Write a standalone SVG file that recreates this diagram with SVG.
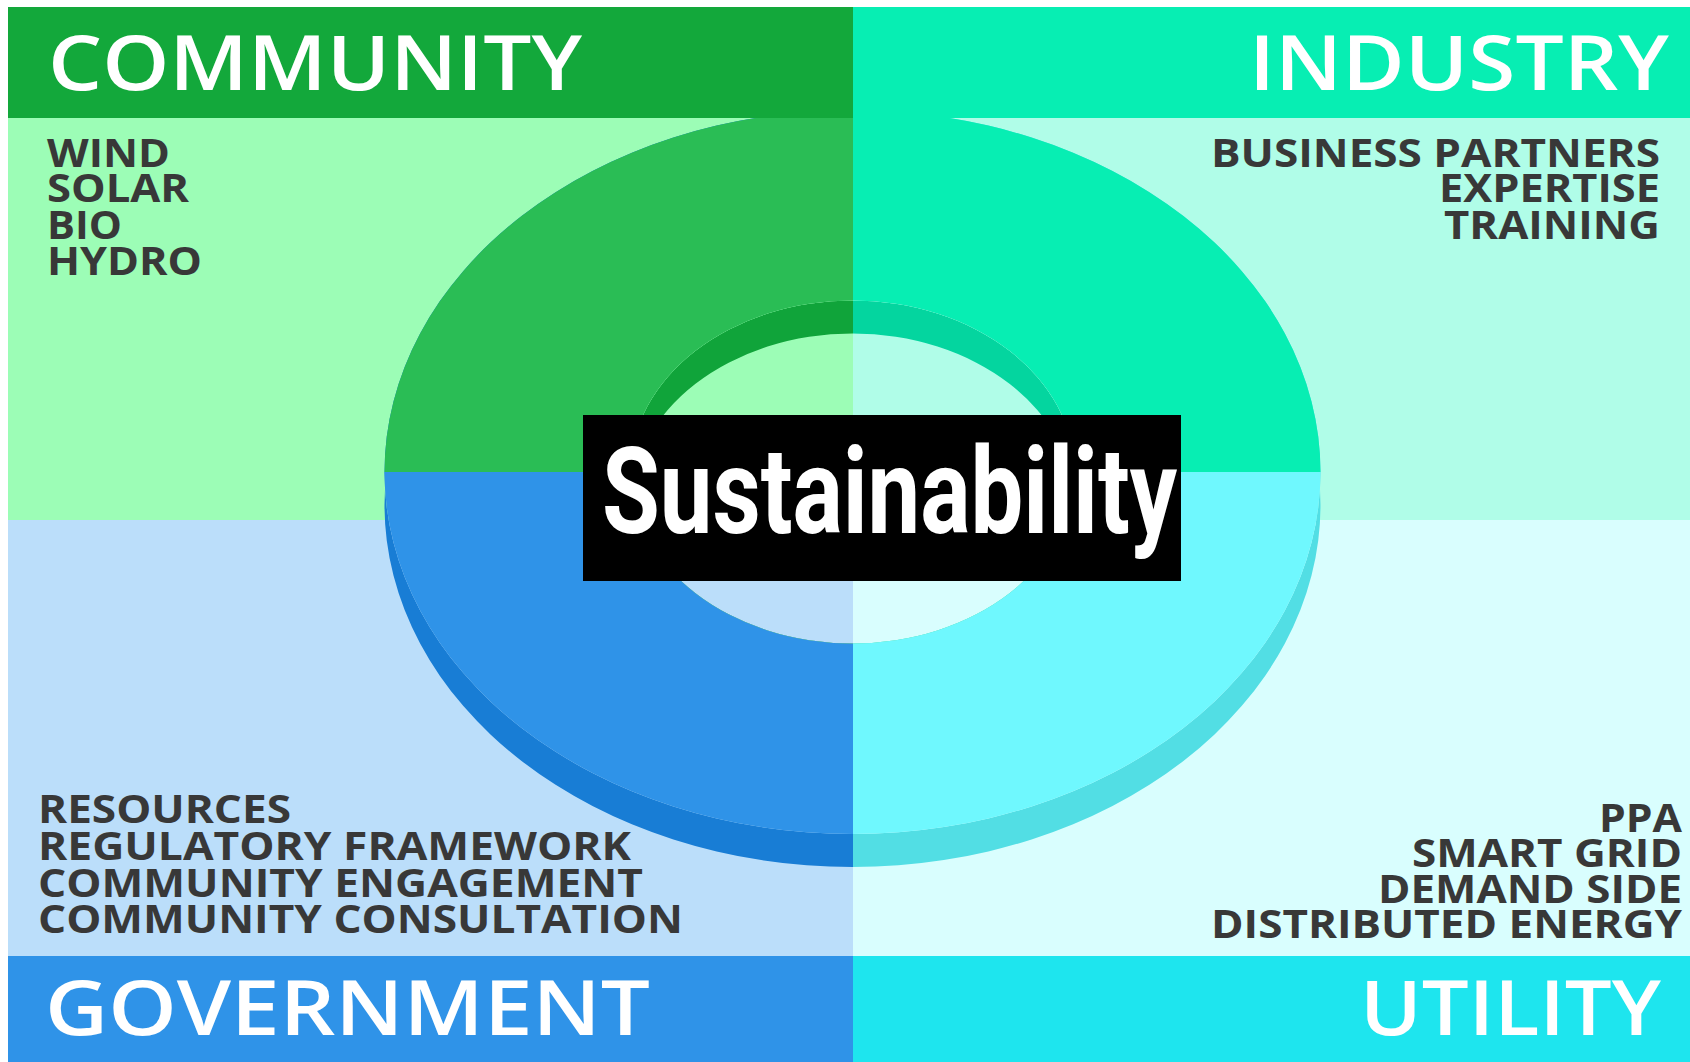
<svg xmlns="http://www.w3.org/2000/svg" width="1690" height="1062" viewBox="0 0 1690 1062">
  <style>
    .title { font-family: "Open Sans", "Liberation Sans", sans-serif; font-weight: 600; font-size: 76px; fill: #ffffff; }
    .item { font-family: "Open Sans", "Liberation Sans", sans-serif; font-weight: 700; font-size: 40px; fill: #383838; }
    .end { text-anchor: end; }
    .center-label { font-family: "Roboto", "Liberation Sans", sans-serif; font-weight: 700; font-size: 120px; fill: #ffffff; }
  </style>
  <defs>
    <pattern id="faceFill" patternUnits="userSpaceOnUse" x="0" y="0" width="1690" height="1062">
      <rect x="0" y="0" width="853" height="472" fill="#2abd55"/>
      <rect x="853" y="0" width="837" height="472" fill="#07eeb3"/>
      <rect x="0" y="472" width="853" height="590" fill="#2f93e8"/>
      <rect x="853" y="472" width="837" height="590" fill="#6ff8fe"/>
    </pattern>
    <pattern id="sideFill" patternUnits="userSpaceOnUse" x="0" y="0" width="1690" height="1062">
      <rect x="0" y="0" width="853" height="1062" fill="#187dd5"/>
      <rect x="853" y="0" width="837" height="1062" fill="#52dee4"/>
    </pattern>
    <pattern id="wallFill" patternUnits="userSpaceOnUse" x="0" y="0" width="1690" height="1062">
      <rect x="0" y="0" width="853" height="1062" fill="#10a43a"/>
      <rect x="853" y="0" width="837" height="1062" fill="#04d59f"/>
    </pattern>
    <clipPath id="holeClip">
      <ellipse cx="852.5" cy="472" rx="222" ry="171.5"/>
    </clipPath>
  </defs>

  <rect x="0" y="0" width="1690" height="1062" fill="#ffffff"/>

  <g id="backgrounds">
    <rect x="8" y="7" width="845" height="513" fill="#9cfdb6"/>
    <rect x="853" y="7" width="837" height="513" fill="#b0fde8"/>
    <rect x="8" y="520" width="845" height="542" fill="#bbdefa"/>
    <rect x="853" y="520" width="837" height="542" fill="#d9fefe"/>
  </g>

  <g id="ring">
    <path fill="url(#sideFill)" fill-rule="evenodd"
      d="M384.5 472 A468 362 0 1 0 1320.5 472 A468 362 0 1 0 384.5 472 Z M384.5 505 A468 362 0 1 0 1320.5 505 A468 362 0 1 0 384.5 505 Z"/>
    <path fill="url(#faceFill)" fill-rule="evenodd"
      d="M384.5 472 A468 362 0 1 0 1320.5 472 A468 362 0 1 0 384.5 472 Z M630.5 472 A222 171.5 0 1 0 1074.5 472 A222 171.5 0 1 0 630.5 472 Z"/>
    <path fill="url(#wallFill)" fill-rule="evenodd" clip-path="url(#holeClip)"
      d="M630.5 472 A222 171.5 0 1 0 1074.5 472 A222 171.5 0 1 0 630.5 472 Z M630.5 505 A222 171.5 0 1 0 1074.5 505 A222 171.5 0 1 0 630.5 505 Z"/>
  </g>

  <g id="community">
    <rect x="8" y="7" width="845" height="111" fill="#13a83b"/>
    <text class="title" x="48" y="90" textLength="534" lengthAdjust="spacingAndGlyphs">COMMUNITY</text>
    <text class="item" x="47" y="167" textLength="123" lengthAdjust="spacingAndGlyphs">WIND</text>
    <text class="item" x="47" y="202" textLength="142" lengthAdjust="spacingAndGlyphs">SOLAR</text>
    <text class="item" x="47" y="239" textLength="75" lengthAdjust="spacingAndGlyphs">BIO</text>
    <text class="item" x="47" y="275" textLength="155" lengthAdjust="spacingAndGlyphs">HYDRO</text>
  </g>

  <g id="industry">
    <rect x="853" y="7" width="837" height="111" fill="#07eeb3"/>
    <text class="title end" x="1669" y="90" textLength="420" lengthAdjust="spacingAndGlyphs">INDUSTRY</text>
    <text class="item end" x="1660" y="167" textLength="449" lengthAdjust="spacingAndGlyphs">BUSINESS PARTNERS</text>
    <text class="item end" x="1660" y="202" textLength="221" lengthAdjust="spacingAndGlyphs">EXPERTISE</text>
    <text class="item end" x="1660" y="239" textLength="216" lengthAdjust="spacingAndGlyphs">TRAINING</text>
  </g>

  <g id="government">
    <rect x="8" y="956" width="845" height="106" fill="#2f93e8"/>
    <text class="title" x="45" y="1035" textLength="605" lengthAdjust="spacingAndGlyphs">GOVERNMENT</text>
    <text class="item" x="38" y="823" textLength="253" lengthAdjust="spacingAndGlyphs">RESOURCES</text>
    <text class="item" x="38" y="860" textLength="593" lengthAdjust="spacingAndGlyphs">REGULATORY FRAMEWORK</text>
    <text class="item" x="38" y="897" textLength="605" lengthAdjust="spacingAndGlyphs">COMMUNITY ENGAGEMENT</text>
    <text class="item" x="38" y="933" textLength="645" lengthAdjust="spacingAndGlyphs">COMMUNITY CONSULTATION</text>
  </g>

  <g id="utility">
    <rect x="853" y="956" width="837" height="106" fill="#1ee5ee"/>
    <text class="title end" x="1661" y="1035" textLength="301" lengthAdjust="spacingAndGlyphs">UTILITY</text>
    <text class="item end" x="1682" y="832" textLength="83" lengthAdjust="spacingAndGlyphs">PPA</text>
    <text class="item end" x="1682" y="867" textLength="270" lengthAdjust="spacingAndGlyphs">SMART GRID</text>
    <text class="item end" x="1682" y="903" textLength="304" lengthAdjust="spacingAndGlyphs">DEMAND SIDE</text>
    <text class="item end" x="1682" y="938" textLength="471" lengthAdjust="spacingAndGlyphs">DISTRIBUTED ENERGY</text>
  </g>

  <g id="sustainability">
    <rect x="583" y="415" width="598" height="166" fill="#000000"/>
    <text class="center-label" x="602" y="533" textLength="575" lengthAdjust="spacingAndGlyphs">Sustainability</text>
  </g>
</svg>
